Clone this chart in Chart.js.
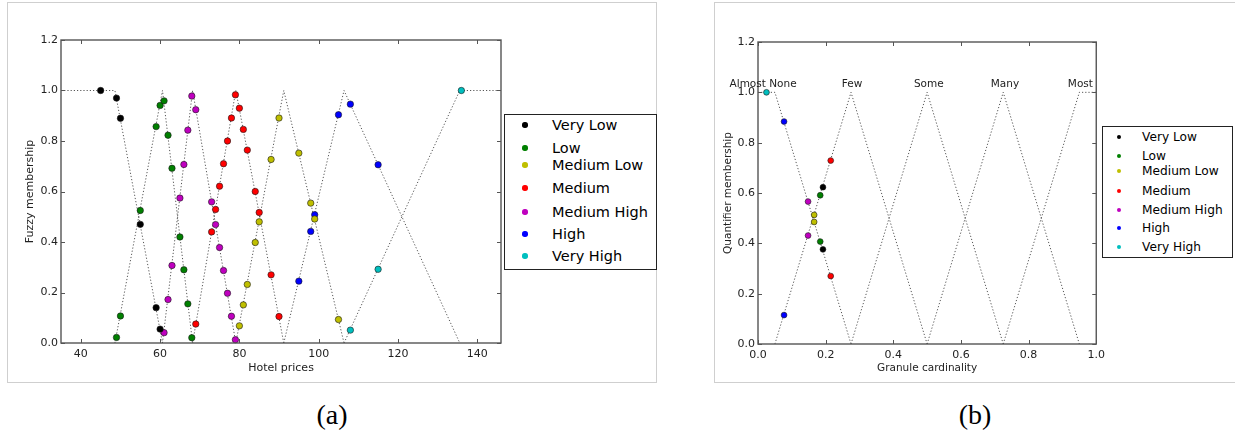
<!DOCTYPE html>
<html>
<head>
<meta charset="utf-8">
<script src="https://cdn.jsdelivr.net/npm/chart.js@4.4.1/dist/chart.umd.min.js"></script>
<style>
  html, body { margin: 0; padding: 0; background: #fff; }
  body { position: relative; width: 1235px; height: 437px; overflow: hidden; font-family: "DejaVu Sans", sans-serif; }
  .frame { position: absolute; border: 1px solid #cfcfcf; box-sizing: border-box; }
  canvas { position: absolute; }
  .legend { position: absolute; border: 1.3px solid #222; background: #fff; box-sizing: border-box; }
  .row { position: absolute; white-space: nowrap; color: #000; height: 20px; line-height: 20px; }
  .dot { position: absolute; border-radius: 50%; }
  .caption { position: absolute; font-family: "Liberation Serif", "Times New Roman", serif; font-size: 28px; transform: translate(-50%, -50%); color: #000; }
</style>
</head>
<body>
<div class="frame" style="left:7px;top:2px;width:650px;height:381px"></div>
<div class="frame" style="left:714px;top:2px;width:540px;height:381px"></div>
<canvas id="chartA" width="510" height="390" style="left:0;top:0"></canvas>
<canvas id="chartB" width="410" height="390" style="left:700px;top:0"></canvas>
<div class="legend" style="left:504px;top:114px;width:153px;height:156px"></div>
<div class="legend" style="left:1102px;top:126px;width:131px;height:132px"></div>
<div class="caption" style="left:332px;top:415px">(a)</div>
<div class="caption" style="left:975px;top:415px">(b)</div>
<script>
// Price categories and their marker colours
const categories = ['Very Low', 'Low', 'Medium Low', 'Medium', 'Medium High', 'High', 'Very High'];
const categoryColors = ['#000000', '#008000', '#bfbf00', '#ff0000', '#bf00bf', '#0000ff', '#00bfbf'];

// (a) hotel price -> fuzzy membership, one list per category
const hotelVeryLow    = [[45, 1.0], [49, 0.97], [50, 0.89], [55, 0.47], [59, 0.14], [60, 0.055]];
const hotelLow        = [[49, 0.022], [50, 0.107], [55, 0.525], [59, 0.857], [60, 0.941], [61, 0.959], [62, 0.823], [63, 0.692], [65, 0.42], [66, 0.29], [67, 0.155], [68, 0.021]];
const hotelMediumLow  = [[80, 0.068], [81, 0.151], [82, 0.232], [84, 0.398], [85, 0.48], [88, 0.727], [90, 0.891], [95, 0.752], [98, 0.554], [99, 0.491], [105, 0.093]];
const hotelMedium     = [[69, 0.075], [73, 0.44], [74, 0.529], [75, 0.621], [76, 0.71], [77, 0.80], [78, 0.891], [79, 0.983], [80, 0.93], [81, 0.846], [82, 0.764], [84, 0.60], [85, 0.517], [88, 0.27], [90, 0.105]];
const hotelMediumHigh = [[61, 0.041], [62, 0.172], [63, 0.307], [65, 0.574], [66, 0.707], [67, 0.843], [68, 0.978], [69, 0.924], [73, 0.559], [74, 0.469], [75, 0.378], [76, 0.287], [77, 0.197], [78, 0.106], [79, 0.013]];
const hotelHigh       = [[95, 0.245], [98, 0.442], [99, 0.508], [105, 0.904], [108, 0.946], [115, 0.706]];
const hotelVeryHigh   = [[108, 0.051], [115, 0.292], [136, 1.0]];

// (a) price membership functions (vertices)
const priceFunctions = [
  [[35, 1], [48.6, 1], [60.6, 0]],
  [[48.6, 0], [60.6, 1], [68.2, 0]],
  [[60.6, 0], [68.2, 1], [79.1, 0]],
  [[68.2, 0], [79.1, 1], [91.2, 0]],
  [[79.1, 0], [91.2, 1], [106.4, 0]],
  [[91.2, 0], [106.4, 1], [135.6, 0]],
  [[106.4, 0], [135.6, 1], [146, 1]]
];
const priceTicks = [40, 60, 80, 100, 120, 140];
const membershipTicks = [0, 0.2, 0.4, 0.6, 0.8, 1.0, 1.2];

// (b) granule cardinality -> quantifier membership, one list per category
const granuleVeryLow    = [[0.192, 0.623], [0.192, 0.376]];
const granuleLow        = [[0.184, 0.591], [0.184, 0.407]];
const granuleMediumLow  = [[0.166, 0.513], [0.166, 0.485]];
const granuleMedium     = [[0.215, 0.729], [0.215, 0.27]];
const granuleMediumHigh = [[0.148, 0.566], [0.148, 0.431]];
const granuleHigh       = [[0.077, 0.884], [0.077, 0.115]];
const granuleVeryHigh   = [[0.025, 1.0]];

// (b) quantifier membership functions (vertices) and names
const quantifierNames = ['Almost None', 'Few', 'Some', 'Many', 'Most'];
const quantifierLabelAt = [0.015, 0.278, 0.505, 0.73, 0.953];
const quantifierFunctions = [
  [[0, 1], [0.05, 1], [0.275, 0]],
  [[0.05, 0], [0.275, 1], [0.5, 0]],
  [[0.275, 0], [0.5, 1], [0.725, 0]],
  [[0.5, 0], [0.725, 1], [0.95, 0]],
  [[0.725, 0], [0.95, 1], [1, 1]]
];
const cardinalityTicks = [0, 0.2, 0.4, 0.6, 0.8, 1.0];

const hotelSeries = [hotelVeryLow, hotelLow, hotelMediumLow, hotelMedium, hotelMediumHigh, hotelHigh, hotelVeryHigh];
const granuleSeries = [granuleVeryLow, granuleLow, granuleMediumLow, granuleMedium, granuleMediumHigh, granuleHigh, granuleVeryHigh];

const toXY = pts => pts.map(([x, y]) => ({ x, y }));

function pointDatasets(series, radius) {
  return series.map((pts, i) => ({
    label: categories[i],
    data: toXY(pts),
    backgroundColor: categoryColors[i],
    borderColor: '#1a1a1a',
    borderWidth: 0.6,
    pointRadius: radius,
    pointHoverRadius: radius,
    showLine: false,
    clip: false,
    order: 0
  }));
}

function curveDatasets(functions) {
  return functions.map(fn => ({
    data: toXY(fn),
    showLine: true,
    borderColor: 'rgba(45,45,45,0.8)',
    borderWidth: 1,
    borderDash: [1.2, 2],
    pointRadius: 0,
    pointHoverRadius: 0,
    fill: false,
    tension: 0,
    order: 1
  }));
}

// Box around the plot area with inward tick marks on all four sides
const boxedAxes = {
  id: 'boxedAxes',
  afterDraw(chart) {
    const { ctx, chartArea: a, scales: { x, y } } = chart;
    const len = 4;
    ctx.save();
    ctx.strokeStyle = '#555';
    ctx.lineWidth = 1;
    ctx.beginPath();
    x.ticks.forEach(t => {
      const px = Math.round(x.getPixelForValue(t.value)) + 0.5;
      ctx.moveTo(px, a.bottom); ctx.lineTo(px, a.bottom - len);
      ctx.moveTo(px, a.top); ctx.lineTo(px, a.top + len);
    });
    y.ticks.forEach(t => {
      const py = Math.round(y.getPixelForValue(t.value)) + 0.5;
      ctx.moveTo(a.left, py); ctx.lineTo(a.left + len, py);
      ctx.moveTo(a.right, py); ctx.lineTo(a.right - len, py);
    });
    ctx.stroke();
    ctx.lineWidth = 1.4;
    ctx.strokeRect(a.left, a.top, a.right - a.left, a.bottom - a.top);
    ctx.restore();
  }
};

// Quantifier names written above each peak
const quantifierLabels = {
  id: 'quantifierLabels',
  afterDraw(chart) {
    if (!chart.options.quantifierText) return;
    const { ctx, scales: { x, y } } = chart;
    ctx.save();
    ctx.font = '10.5px "DejaVu Sans"';
    ctx.fillStyle = '#222';
    ctx.textAlign = 'center';
    ctx.textBaseline = 'middle';
    const py = y.getPixelForValue(1.0) - 8;
    quantifierNames.forEach((name, i) => {
      ctx.fillText(name, x.getPixelForValue(quantifierLabelAt[i]), py);
    });
    ctx.restore();
  }
};

function buildScales(cfg) {
  const tickFont = { family: 'DejaVu Sans', size: cfg.tickSize };
  const titleFont = { family: 'DejaVu Sans', size: cfg.titleSize };
  return {
    x: {
      type: 'linear', min: cfg.xMin, max: cfg.xMax,
      afterBuildTicks: s => { s.ticks = cfg.xTicks.map(v => ({ value: v })); },
      afterFit: s => { s.height = cfg.xAxisHeight; },
      grid: { display: false, drawTicks: false },
      border: { display: false },
      ticks: { font: tickFont, color: '#222', padding: 5, maxRotation: 0, autoSkip: false, callback: cfg.xFormat },
      title: { display: true, text: cfg.xTitle, font: titleFont, color: '#222', padding: cfg.xTitlePad }
    },
    y: {
      type: 'linear', min: 0, max: 1.2,
      afterBuildTicks: s => { s.ticks = membershipTicks.map(v => ({ value: v })); },
      afterFit: s => { s.width = cfg.yAxisWidth; },
      grid: { display: false, drawTicks: false },
      border: { display: false },
      ticks: { font: tickFont, color: '#222', padding: 3, autoSkip: false, callback: v => Number(v).toFixed(1) },
      title: { display: true, text: cfg.yTitle, font: titleFont, color: '#222', padding: cfg.yTitlePad }
    }
  };
}

new Chart(document.getElementById('chartA'), {
  type: 'scatter',
  data: { datasets: [...pointDatasets(hotelSeries, 3.2), ...curveDatasets(priceFunctions)] },
  options: {
    responsive: false, animation: false, devicePixelRatio: 1,
    layout: { padding: { left: 0, top: 40, right: 9, bottom: 0 } },
    plugins: { legend: { display: false }, tooltip: { enabled: false } },
    scales: buildScales({
      xMin: 35, xMax: 146, xTicks: priceTicks, xFormat: v => String(v),
      xAxisHeight: 47, yAxisWidth: 61, tickSize: 11, titleSize: 11,
      xTitle: 'Hotel prices', yTitle: 'Fuzzy membership',
      xTitlePad: 15.4, yTitlePad: 23.4
    })
  },
  plugins: [boxedAxes]
});

new Chart(document.getElementById('chartB'), {
  type: 'scatter',
  data: { datasets: [...pointDatasets(granuleSeries, 2.9), ...curveDatasets(quantifierFunctions)] },
  options: {
    responsive: false, animation: false, devicePixelRatio: 1,
    quantifierText: true,
    layout: { padding: { left: 0, top: 42, right: 13, bottom: 0 } },
    plugins: { legend: { display: false }, tooltip: { enabled: false } },
    scales: buildScales({
      xMin: 0, xMax: 1, xTicks: cardinalityTicks, xFormat: v => Number(v).toFixed(1),
      xAxisHeight: 46, yAxisWidth: 58, tickSize: 11, titleSize: 10.5,
      xTitle: 'Granule cardinality', yTitle: 'Quantifier membership',
      xTitlePad: 15.4, yTitlePad: 21.7
    })
  },
  plugins: [boxedAxes, quantifierLabels]
});

// Legends: coloured dot plus category name per row
function buildLegend(rowCentres, dotX, textX, dotR, fontSize) {
  categories.forEach((name, i) => {
    const dot = document.createElement('div');
    dot.className = 'dot';
    Object.assign(dot.style, {
      left: (dotX - dotR) + 'px', top: (rowCentres[i] - dotR) + 'px',
      width: (2 * dotR) + 'px', height: (2 * dotR) + 'px',
      background: categoryColors[i]
    });
    document.body.appendChild(dot);
    const row = document.createElement('div');
    row.className = 'row';
    row.textContent = name;
    Object.assign(row.style, { left: textX + 'px', top: (rowCentres[i] - 10) + 'px', fontSize: fontSize + 'px' });
    document.body.appendChild(row);
  });
}
buildLegend([125, 148, 165, 188, 212, 234, 256], 525, 552, 2.7, 14.5);
buildLegend([137, 156, 171, 191, 210, 228, 247], 1119, 1142, 2.3, 12.2);
</script>
</body>
</html>
